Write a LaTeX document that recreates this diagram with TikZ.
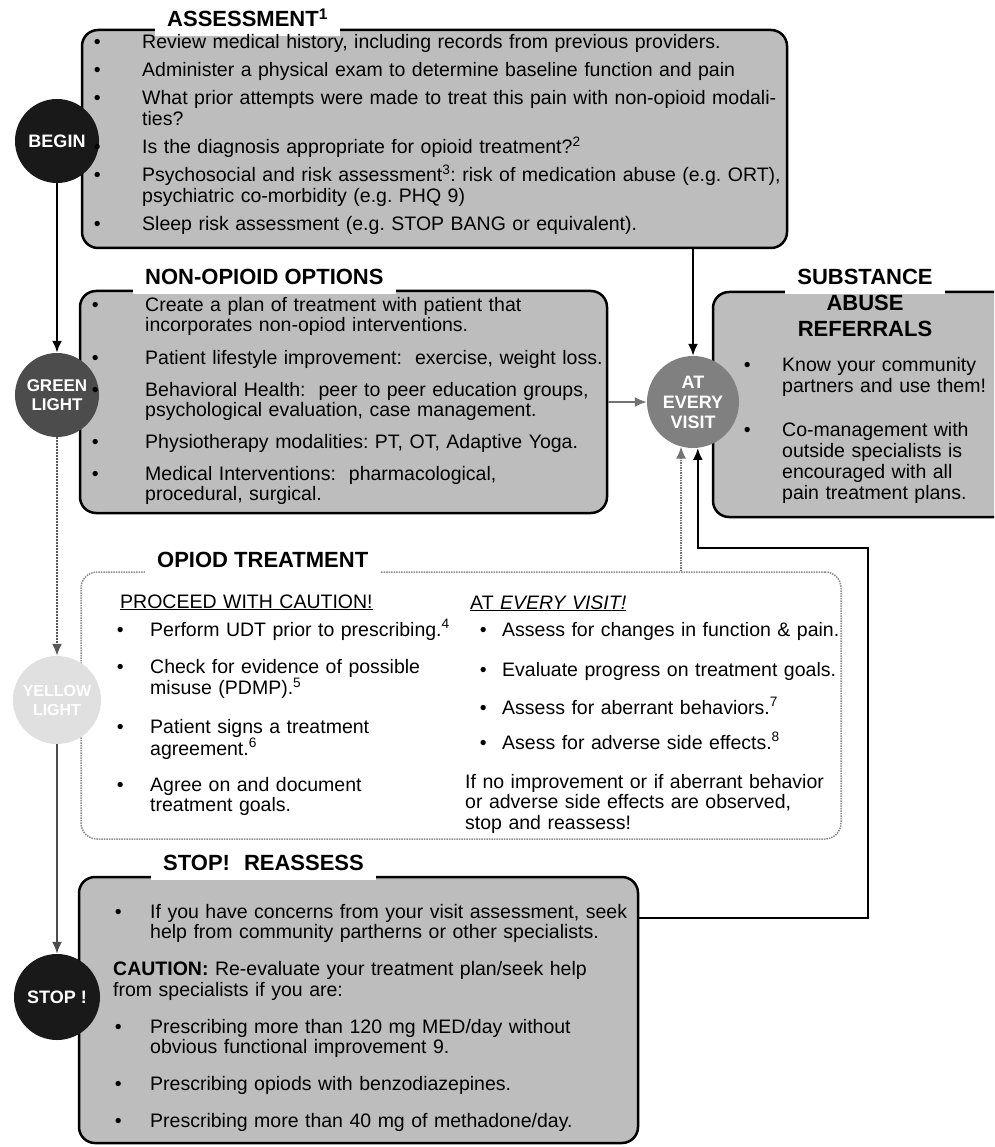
\documentclass[tikz,border=0pt]{standalone}
\usepackage{fontspec}
\setmainfont{Liberation Sans}
\usepackage{tikz}
\usetikzlibrary{arrows.meta}
\definecolor{boxgray}{gray}{0.74}
\newcommand{\bodyfont}{\fontsize{19.5}{20.5}\selectfont\frenchspacing}
\newcommand{\bul}[1]{\leavevmode\llap{\textbullet\hspace{#1pt}}}
\tikzset{
  box/.style={draw=black, line width=2.5pt, rounded corners=16pt, fill=boxgray, inner sep=0pt},
  obox/.style={draw=black!45, densely dotted, line width=1.5pt, rounded corners=16pt, fill=white, inner sep=0pt},
  ttl/.style={fill=white, font=\bfseries\fontsize{22}{26}\selectfont, inner xsep=12pt, inner ysep=9pt, anchor=west},
  stage/.style={circle, inner sep=0pt, align=center, text=white, font=\bfseries\fontsize{18}{20}\selectfont},
  txt/.style={anchor=base west, inner sep=0pt, text width=#1, align=left, font=\bodyfont},
  txt/.default=680pt,
  flow/.style={->, line width=2.5pt}
}
\begin{document}
\begin{tikzpicture}[x=1pt,y=-1pt,>={Latex[length=12pt,width=10pt]}]
\useasboundingbox (0,0) rectangle (994,1147);
\clip (0,0) rectangle (994,1147);

% boxes
\node[box, minimum width=705pt, minimum height=218pt] (assess) at (434.5,139) {};
\node[box, minimum width=527pt, minimum height=222pt] (nonop) at (343.5,402) {};
\node[box, minimum width=297pt, minimum height=225pt] (subst) at (861.5,404.5) {};
\node[obox, minimum width=760pt, minimum height=267pt] (opioid) at (461,705.5) {};
\node[box, minimum width=559pt, minimum height=266pt] (stopbox) at (358.5,1010) {};

% titles
\node[ttl] (tassess) at (155,18) {ASSESSMENT\textsuperscript{1}};
\node[ttl] (tnonop) at (133,277) {NON-OPIOID OPTIONS};
\node[ttl] (topioid) at (145,560) {OPIOD TREATMENT};
\node[ttl] (tstop) at (151,863) {STOP!\hspace{14pt}REASSESS};
\node[ttl, anchor=center] (tsubst) at (865,277) {SUBSTANCE};
\node[font=\bfseries\fontsize{22}{26}\selectfont, inner sep=0pt] (tabuse) at (865,303) {ABUSE};
\node[font=\bfseries\fontsize{22}{26}\selectfont, inner sep=0pt] (treferral) at (865,329) {REFERRALS};

% stages
\node[stage, fill=black!90, minimum size=84pt] (begin) at (57,141) {BEGIN};
\node[stage, fill=black!70, minimum size=84pt, font=\bfseries\fontsize{17}{19}\selectfont] (green) at (57,395) {GREEN\\LIGHT};
\node[stage, fill=black!12, minimum size=88pt, font=\bfseries\fontsize{16}{19}\selectfont] (caution) at (57,700) {YELLOW\\LIGHT};
\node[stage, fill=black!90, minimum size=86pt] (stopc) at (57,997) {STOP !};
\node[stage, fill=black!50, minimum size=92pt] (visit) at (693,402) {AT\\EVERY\\VISIT};

% connectors
\draw[flow] (begin) -- (green);
\draw[flow, line width=2pt, black!65, densely dotted] (green) -- (caution);
\draw[flow, line width=2pt, black!70] (caution) -- (stopc);
\draw[flow, line width=2pt] (visit.north |- assess.south) -- (visit);
\draw[flow, line width=2pt, black!55] (nonop.east) -- (visit);
\draw[flow, line width=1.5pt, black!55, densely dotted] (opioid.north -| visit.255) -- (visit.255);
\coordinate (loopb) at (868,918);
\coordinate (loopt) at (868,548);
\draw[flow] (stopbox.east |- loopb) -- (loopb) -- (loopt) -- (loopt -| visit.-84) -- (visit.-84);

% assessment
\node[txt] (a1) at (142,49) {\bul{41.6}Review medical history, including records from previous providers.};
\node[txt] (a2) at (142,77) {\bul{41.6}Administer a physical exam to determine baseline function and pain};
\node[txt] (a3) at (142,105) {\bul{41.6}What prior attempts were made to treat this pain with non-opioid modali-\\ties?};
\node[txt] (a4) at (142,154) {\bul{41.6}Is the diagnosis appropriate for opioid treatment?\textsuperscript{2}};
\node[txt] (a5) at (142,182) {\bul{41.6}Psychosocial and risk assessment\textsuperscript{3}: risk of medication abuse (e.g. ORT),\\psychiatric co-morbidity (e.g. PHQ 9)};
\node[txt] (a6) at (142,231) {\bul{41.6}Sleep risk assessment (e.g. STOP BANG or equivalent).};

% non-opioid options
\node[txt] (n1) at (145,311) {\bul{46.6}Create a plan of treatment with patient that\\incorporates non-opiod interventions.};
\node[txt] (n2) at (145,364) {\bul{46.6}Patient lifestyle improvement:\ \ exercise, weight loss.};
\node[txt] (n3) at (145,396) {\bul{46.6}Behavioral Health:\ \ peer to peer education groups,\\psychological evaluation, case management.};
\node[txt] (n4) at (145,448) {\bul{46.6}Physiotherapy modalities: PT, OT, Adaptive Yoga.};
\node[txt] (n5) at (145,480) {\bul{46.6}Medical Interventions:\ \ pharmacological,\\procedural, surgical.};

% substance abuse referrals
\node[txt, font=\fontsize{19.5}{21}\selectfont] (s1) at (782,371) {\bul{31.4}Know your community\\partners and use them!};
\node[txt, font=\fontsize{19.5}{21}\selectfont] (s2) at (782,436) {\bul{31.4}Co-management with\\outside specialists is\\encouraged with all\\pain treatment plans.};

% opioid treatment
\node[txt] (p0) at (120,608) {\underline{PROCEED WITH CAUTION!}};
\node[txt] (p1) at (150,636) {\bul{26.6}Perform UDT prior to prescribing.\textsuperscript{4}};
\node[txt] (p2) at (150,673) {\bul{26.6}Check for evidence of possible\\misuse (PDMP).\textsuperscript{5}};
\node[txt] (p3) at (150,733) {\bul{26.6}Patient signs a treatment\\agreement.\textsuperscript{6}};
\node[txt] (p4) at (150,791) {\bul{26.6}Agree on and document\\treatment goals.};
\node[txt] (v0) at (470,609) {\underline{AT \textit{EVERY VISIT!}}};
\node[txt] (v1) at (502,636) {\bul{15.6}Assess for changes in function \& pain.};
\node[txt] (v2) at (502,676) {\bul{15.6}Evaluate progress on treatment goals.};
\node[txt] (v3) at (502,714) {\bul{15.6}Assess for aberrant behaviors.\textsuperscript{7}};
\node[txt] (v4) at (502,749) {\bul{15.6}Asess for adverse side effects.\textsuperscript{8}};
\node[txt] (v5) at (465,788) {If no improvement or if aberrant behavior\\or adverse side effects are observed,\\stop and reassess!};

% stop! reassess
\node[txt] (r1) at (150,918) {\bul{28.6}If you have concerns from your visit assessment, seek\\help from community partherns or other specialists.};
\node[txt] (r2) at (113,975.6) {\textbf{CAUTION:} Re-evaluate your treatment plan/seek help\\from specialists if you are:};
\node[txt] (r3) at (150,1033) {\bul{28.6}Prescribing more than 120 mg MED/day without\\obvious functional improvement 9.};
\node[txt] (r4) at (150,1090.6) {\bul{28.6}Prescribing opiods with benzodiazepines.};
\node[txt] (r5) at (150,1127.7) {\bul{28.6}Prescribing more than 40 mg of methadone/day.};
\end{tikzpicture}
\end{document}
